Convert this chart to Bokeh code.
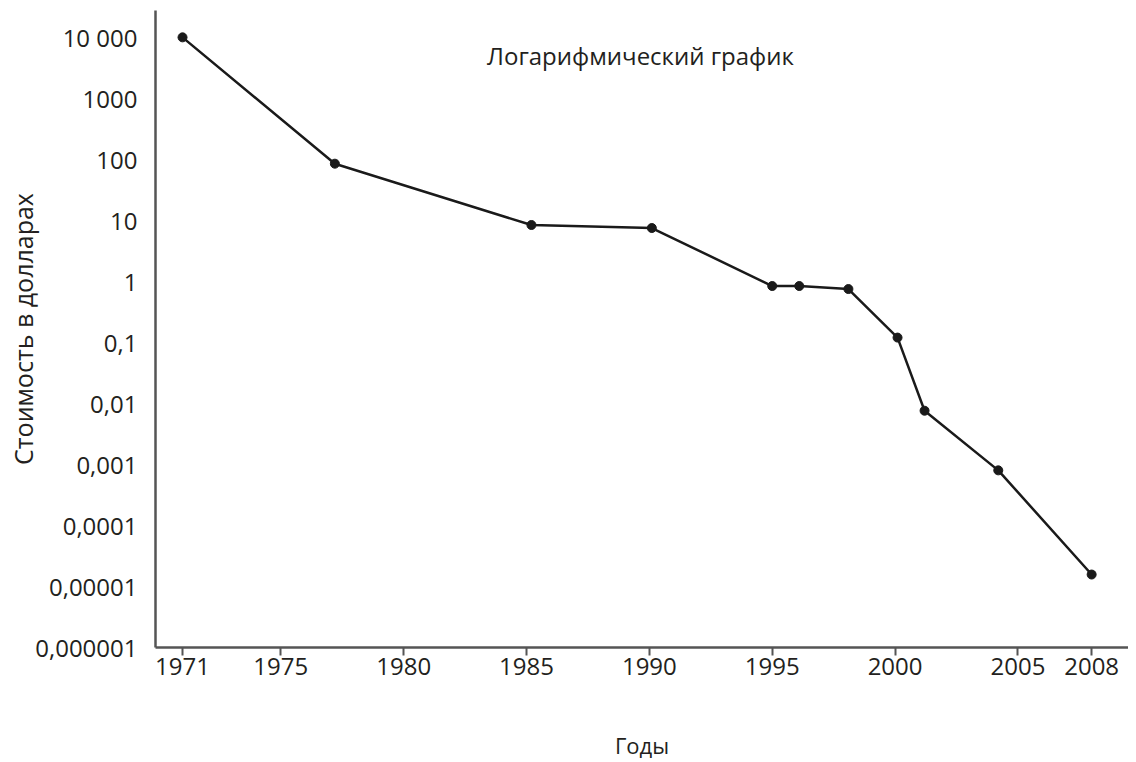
from bokeh.plotting import figure
from bokeh.models import FixedTicker, Label, Range1d
from bokeh.embed import file_html
from bokeh.resources import INLINE

years = [1971, 1977.2, 1985.2, 1990.1, 1995.0, 1996.1, 1998.1, 2000.1, 2001.2, 2004.2, 2008.0]
costs = [10000, 85, 8.4, 7.5, 0.84, 0.84, 0.75, 0.12, 0.0076, 0.0008, 0.0000157]

x_ticks = [1971, 1975, 1980, 1985, 1990, 1995, 2000, 2005, 2008]
y_ticks = [1e-6, 1e-5, 1e-4, 1e-3, 1e-2, 1e-1, 1, 10, 100, 1000, 10000]
y_labels = ["0,000001", "0,00001", "0,0001", "0,001", "0,01", "0,1", "1", "10", "100", "1000", "10 000"]

title_text = "Логарифмический график"
x_title = "Годы"
y_title = "Стоимость в долларах"

FONT = "Open Sans"
TXT = "#231f20"

p = figure(width=1128, height=762, y_axis_type="log",
           x_range=Range1d(1969.9, 2009.5), y_range=Range1d(1e-6, 10**4.44),
           output_backend="svg", toolbar_location=None,
           min_border_left=155, min_border_right=0, min_border_top=10, min_border_bottom=106)
p.outline_line_color = None
p.grid.visible = False

p.line(years, costs, line_color="#1a1a1a", line_width=2.5)
p.scatter(years, costs, size=9, color="#1a1a1a")

xa = p.xaxis[0]
xa.ticker = FixedTicker(ticks=x_ticks)
xa.major_label_overrides = {t: str(t) for t in x_ticks}
xa.minor_tick_line_color = None
xa.major_tick_in = 0
xa.major_tick_out = 8
xa.major_tick_line_color = "#555555"
xa.major_tick_line_width = 2
xa.axis_line_color = "#555555"
xa.axis_line_width = 2.5
xa.major_label_standoff = 2
xa.major_label_text_font = FONT
xa.major_label_text_font_size = "24px"
xa.major_label_text_color = TXT
xa.axis_label = x_title
xa.axis_label_text_font = FONT
xa.axis_label_text_font_style = "normal"
xa.axis_label_text_font_size = "22px"
xa.axis_label_text_color = TXT
xa.axis_label_standoff = 52

ya = p.yaxis[0]
ya.ticker = FixedTicker(ticks=y_ticks)
ya.major_label_overrides = {t: l for t, l in zip(y_ticks, y_labels)}
ya.minor_tick_line_color = None
ya.major_tick_line_color = None
ya.major_tick_in = 0
ya.major_tick_out = 0
ya.axis_line_color = "#555555"
ya.axis_line_width = 2.5
ya.major_label_standoff = 18
ya.major_label_text_font = FONT
ya.major_label_text_font_size = "24px"
ya.major_label_text_color = TXT
ya.axis_label = y_title
ya.axis_label_text_font = FONT
ya.axis_label_text_font_style = "normal"
ya.axis_label_text_font_size = "25px"
ya.axis_label_text_color = TXT
ya.axis_label_standoff = -8

p.add_layout(Label(x=1989.64, y=5070, text=title_text, text_align="center",
                   text_baseline="middle", text_font=FONT, text_font_size="24px",
                   text_color=TXT))

open("out.html", "w").write(file_html(p, INLINE))
